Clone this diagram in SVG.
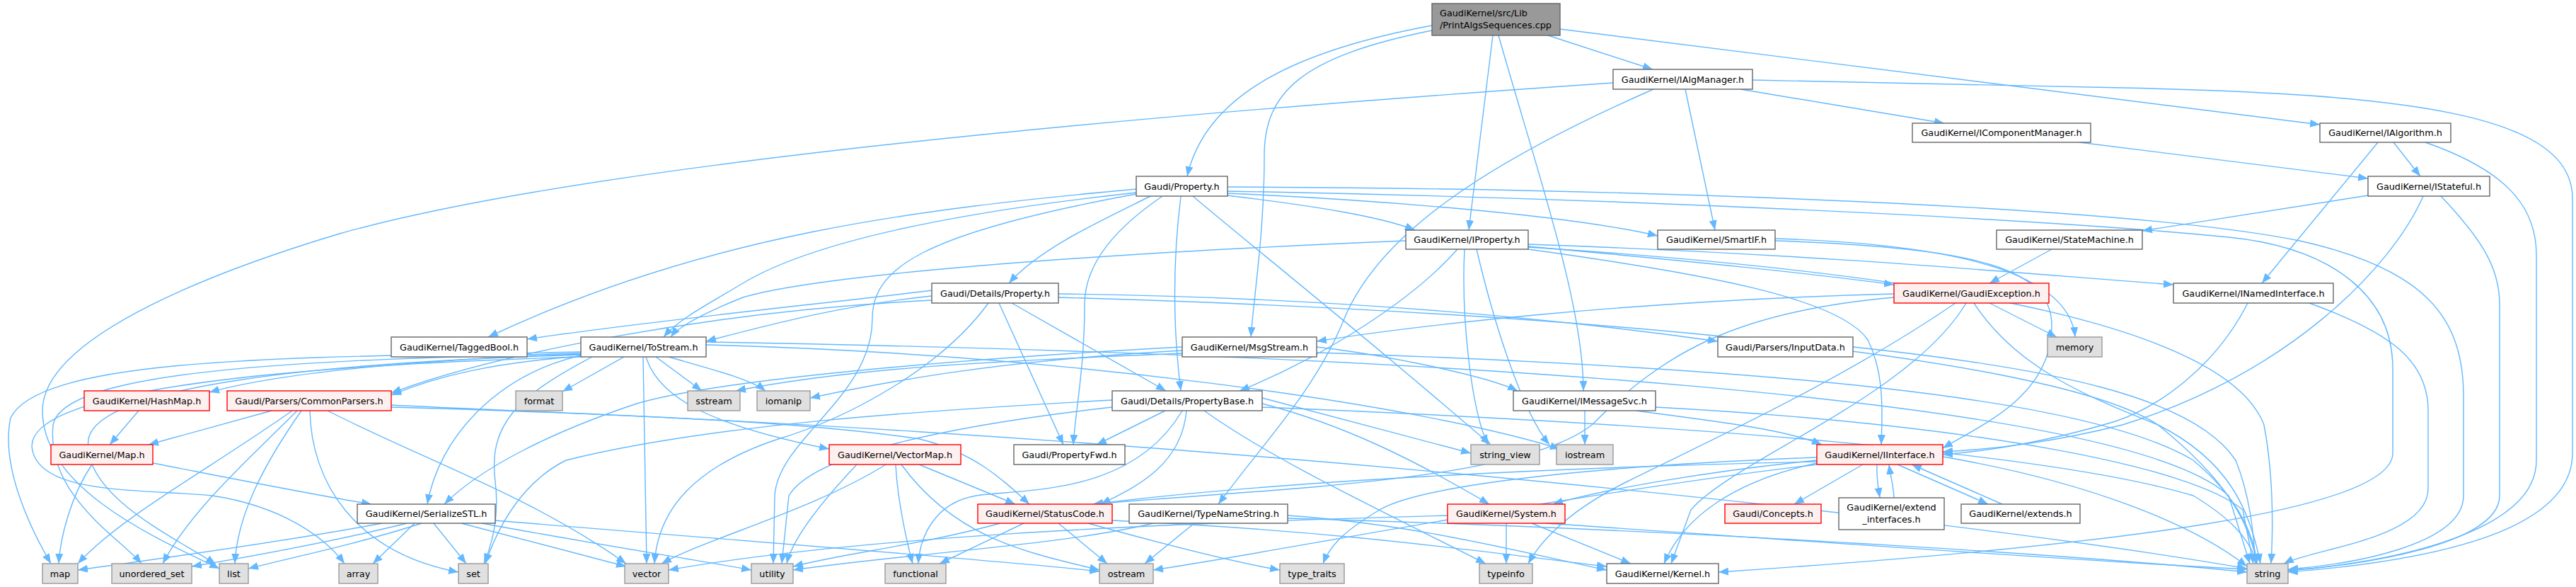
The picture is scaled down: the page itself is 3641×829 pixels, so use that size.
<svg xmlns="http://www.w3.org/2000/svg" width="3641" height="829" viewBox="0 0 3641 829">
<style>
.e path{fill:none;stroke:#63b8ff;stroke-width:1.4;marker-end:url(#a)}
rect{stroke-width:1.4}
.w rect{fill:#ffffff;stroke:#666666}
.r rect{fill:#fff0f0;stroke:#ff0000}
.s rect{fill:#e0e0e0;stroke:#999999}
.o rect{fill:#999999;stroke:#666666}
text{font-family:"DejaVu Sans",sans-serif;font-size:12.8px;fill:#000000;text-anchor:middle}
</style>
<defs>
<marker id="a" markerWidth="15" markerHeight="12" refX="14" refY="6" orient="auto" markerUnits="userSpaceOnUse"><path d="M0,0.5 L14,6 L0,11.5 z" fill="#63b8ff"/></marker>
</defs>
<rect width="3641" height="829" fill="#ffffff"/>
<g class="e" id="edges">
<path d="M2024,36 C1840,70 1705,130 1678,249"/>
<path d="M2188,50 L2336,98"/>
<path d="M2205,41 L3279,176"/>
<path d="M2110,50 L2076,325"/>
<path d="M2118,50 C2175,250 2238,430 2238,552"/>
<path d="M2024,43 C1840,80 1787,130 1787,220 C1787,330 1772,420 1768,476"/>
<path d="M2460,126 L2748,174"/>
<path d="M2382,126 L2424,325"/>
<path d="M2337,126 C2100,230 1950,330 1900,450 C1860,550 1790,620 1722,712"/>
<path d="M2280,117 C1500,170 800,240 480,330 C330,375 60,470 60,580 C60,690 220,760 310,803"/>
<path d="M2477,113 L3000,124 C3400,133 3636,160 3636,280 L3636,640 C3636,760 3400,795 3234,808"/>
<path d="M2939,201 L3347,252"/>
<path d="M3361,201 L3197,400"/>
<path d="M3383,201 L3421,249"/>
<path d="M3428,201 C3540,240 3585,290 3585,360 L3585,650 C3585,760 3350,797 3234,806"/>
<path d="M3347,276 L3028,326"/>
<path d="M3425,277 C3380,380 3230,530 3000,600 C2900,625 2820,634 2746,638"/>
<path d="M3450,277 C3510,340 3533,380 3533,430 L3533,700 C3533,770 3330,800 3234,805"/>
<path d="M2900,352 L2812,400"/>
<path d="M3177,428 C3130,520 3050,575 2990,595 C2900,622 2820,636 2746,642"/>
<path d="M3264,428 C3380,470 3432,510 3432,580 L3432,690 C3432,760 3270,775 3228,796"/>
<path d="M1626,277 C1560,310 1470,350 1426,400"/>
<path d="M1669,277 C1660,350 1655,440 1669,552"/>
<path d="M1643,277 C1580,320 1533,370 1533,430 C1533,520 1520,580 1517,628"/>
<path d="M1735,276 C1850,290 1950,305 2000,325"/>
<path d="M1735,270 C2300,280 2900,310 3150,335 C3300,350 3382,420 3382,520 L3382,640 C3382,720 3000,770 2429,808"/>
<path d="M1735,273 C1900,280 2200,300 2343,333"/>
<path d="M1606,267 C1300,295 1000,330 690,476"/>
<path d="M1606,272 C1350,300 1150,340 1050,400 C1000,430 960,450 938,476"/>
<path d="M1735,264 C2300,266 3000,290 3250,340 C3430,380 3482,450 3482,560 L3482,700 C3482,770 3320,798 3234,804"/>
<path d="M1686,277 C1760,340 1900,450 2107,628"/>
<path d="M1606,274 C1300,330 1233,380 1233,450 C1233,560 1100,620 1095,700 L1093,796"/>
<path d="M1430,428 L1648,552"/>
<path d="M1412,428 L1503,628"/>
<path d="M1317,410 C1200,425 900,455 745,479"/>
<path d="M1317,418 C1200,430 1100,455 998,482"/>
<path d="M1317,424 C1000,440 700,500 553,555"/>
<path d="M1496,415 C1900,420 2200,450 2428,482"/>
<path d="M1496,420 C2200,440 2900,500 3050,600 C3150,680 3180,740 3190,796"/>
<path d="M1397,428 C1330,520 1200,590 1100,620 C980,660 930,720 925,796"/>
<path d="M1647,580 L1550,628"/>
<path d="M1671,580 C1600,700 1450,690 1380,700 C1320,710 1300,760 1298,796"/>
<path d="M1677,580 C1670,660 1600,690 1556,712"/>
<path d="M1702,580 C1800,650 1950,720 2100,796"/>
<path d="M1784,570 C1900,600 2000,650 2105,712"/>
<path d="M1784,562 L2079,640"/>
<path d="M1572,565 C1300,580 1000,600 800,650 C740,680 705,740 686,796"/>
<path d="M1784,575 C2400,600 2900,640 3100,700 C3150,730 3180,760 3190,796"/>
<path d="M1572,575 C1350,600 1150,640 1115,700 L1105,796"/>
<path d="M2060,352 C2000,420 1880,500 1752,552"/>
<path d="M2070,352 C2065,450 2080,580 2103,628"/>
<path d="M2087,352 C2110,450 2150,580 2190,628"/>
<path d="M1987,340 C1500,360 1150,390 1050,420 C1000,440 960,460 948,476"/>
<path d="M2160,345 C2600,360 2900,390 3072,402"/>
<path d="M2160,348 C2400,370 2550,385 2677,402"/>
<path d="M2160,352 C2400,385 2600,420 2640,480 C2665,530 2660,590 2659,628"/>
<path d="M2160,349 C2800,390 3150,470 3200,600 C3215,680 3212,760 3210,796"/>
<path d="M2509,340 C2800,350 2900,380 2900,460 C2900,560 2800,600 2746,633"/>
<path d="M2509,337 C2780,345 2925,390 2933,476"/>
<path d="M2812,428 L2907,476"/>
<path d="M2677,415 C2300,425 2000,460 1861,482"/>
<path d="M2764,428 C2600,540 2400,630 2300,680 C2220,720 2180,760 2160,796"/>
<path d="M2779,428 C2700,560 2450,650 2390,720 L2362,796"/>
<path d="M2790,428 C2850,520 2950,560 3050,600 C3150,650 3180,720 3195,796"/>
<path d="M2677,420 C2450,440 2350,500 2250,600 C2150,680 1800,690 1545,712"/>
<path d="M2240,580 L2240,628"/>
<path d="M2313,580 C2420,595 2520,605 2575,628"/>
<path d="M2340,575 C2800,600 3100,660 3170,720 L3185,796"/>
<path d="M1861,490 C1950,500 2100,530 2145,552"/>
<path d="M1671,490 C1300,510 1000,540 900,570 C780,610 680,660 628,712"/>
<path d="M1671,495 C1400,510 1250,540 1145,562"/>
<path d="M1671,499 C1400,510 1200,520 1040,552"/>
<path d="M1861,498 C2500,520 2950,560 3100,650 C3160,700 3185,750 3190,796"/>
<path d="M2619,490 C2900,520 3100,560 3160,650 C3180,700 3185,750 3188,796"/>
<path d="M1688,739 L1618,796"/>
<path d="M1630,739 C1500,770 1300,780 1121,805"/>
<path d="M1820,728 C2000,740 2150,780 2271,805"/>
<path d="M1820,732 C2300,745 2900,780 3176,808"/>
<path d="M2129,739 L2129,796"/>
<path d="M2165,739 L2305,796"/>
<path d="M2185,739 C2500,760 2900,790 3176,804"/>
<path d="M2046,728 C1600,740 1200,760 945,805"/>
<path d="M1447,739 L1328,796"/>
<path d="M1496,739 L1565,796"/>
<path d="M1414,739 C1300,770 1200,780 1121,800"/>
<path d="M1538,739 C1650,770 1750,795 1809,805"/>
<path d="M1572,735 C1900,750 2100,780 2271,800"/>
<path d="M1299,656 L1435,712"/>
<path d="M1266,656 C1268,700 1280,760 1290,796"/>
<path d="M1274,656 C1350,760 1450,780 1554,805"/>
<path d="M1252,656 C1150,720 1000,760 935,796"/>
<path d="M1211,656 C1160,710 1120,760 1112,796"/>
<path d="M384,580 L210,628"/>
<path d="M413,580 C300,660 170,730 110,796"/>
<path d="M420,580 C350,650 270,720 230,796"/>
<path d="M426,580 C370,660 335,730 332,796"/>
<path d="M438,580 C440,680 500,780 648,808"/>
<path d="M463,580 C600,650 750,700 885,796"/>
<path d="M553,572 C800,585 1100,590 1300,620 C1380,640 1420,680 1455,712"/>
<path d="M553,575 C1500,600 2700,720 3176,803"/>
<path d="M196,580 L155,628"/>
<path d="M130,656 C100,700 85,760 83,796"/>
<path d="M216,654 C350,680 450,700 525,712"/>
<path d="M540,739 C400,765 220,790 110,805"/>
<path d="M575,739 C450,770 330,790 271,800"/>
<path d="M596,739 C500,770 400,790 351,803"/>
<path d="M586,739 L527,796"/>
<path d="M613,739 L659,796"/>
<path d="M652,739 L885,800"/>
<path d="M681,739 C850,770 980,790 1062,805"/>
<path d="M700,735 C1000,760 1400,790 1554,807"/>
<path d="M882,504 L795,553"/>
<path d="M927,504 L992,552"/>
<path d="M945,504 C1000,520 1060,535 1082,552"/>
<path d="M909,504 L914,796"/>
<path d="M837,504 C730,560 690,600 700,680 C706,730 695,770 684,796"/>
<path d="M821,502 C700,530 620,620 604,712"/>
<path d="M913,504 C930,560 1000,600 1172,634"/>
<path d="M821,500 C600,508 400,525 296,554"/>
<path d="M821,503 C700,512 620,530 553,558"/>
<path d="M821,497 C450,505 60,500 15,590 C0,660 45,750 72,796"/>
<path d="M821,499 C450,508 90,520 75,600 C65,700 170,760 200,796"/>
<path d="M821,501 C450,512 140,545 125,620 C115,700 250,760 305,797"/>
<path d="M821,504 C450,515 45,545 45,630 C50,700 200,690 300,700 C400,715 460,760 487,796"/>
<path d="M998,487 C1500,500 2000,570 2205,634"/>
<path d="M998,483 C2000,500 3000,560 3150,700 L3180,796"/>
<path d="M2633,656 L2536,712"/>
<path d="M2653,656 C2652,675 2655,690 2657,703"/>
<path d="M2682,656 L2810,712"/>
<path d="M2568,650 C2420,665 2270,690 2195,712"/>
<path d="M2568,652 C2200,660 1800,680 1545,712"/>
<path d="M2568,654 C2450,680 2380,730 2352,796"/>
<path d="M2568,646 C2200,660 2000,690 1950,720 C1900,750 1880,770 1870,796"/>
<path d="M2568,656 C2200,700 1800,780 1630,805"/>
<path d="M2746,645 C2950,680 3100,740 3176,800"/>
<path d="M2677,703 C2677,690 2672,672 2670,656"/>
<path d="M2830,712 L2702,656"/>
</g>
<g id="n-root" class="o"><rect x="2024" y="5" width="181" height="45"/><text x="2035" y="23" style="text-anchor:start">GaudiKernel/src/Lib</text><text x="2035" y="40" style="text-anchor:start">/PrintAlgsSequences.cpp</text></g>
<g id="n-IAlgManager" class="w"><rect x="2280" y="98" width="197" height="28"/><text x="2378.5" y="116.6">GaudiKernel/IAlgManager.h</text></g>
<g id="n-IComponentManager" class="w"><rect x="2703" y="174" width="252" height="27"/><text x="2829" y="192">GaudiKernel/IComponentManager.h</text></g>
<g id="n-IAlgorithm" class="w"><rect x="3279" y="174" width="185" height="27"/><text x="3371.5" y="192">GaudiKernel/IAlgorithm.h</text></g>
<g id="n-IStateful" class="w"><rect x="3347" y="249" width="172" height="28"/><text x="3433" y="267.6">GaudiKernel/IStateful.h</text></g>
<g id="n-StateMachine" class="w"><rect x="2822" y="325" width="206" height="27"/><text x="2925" y="343">GaudiKernel/StateMachine.h</text></g>
<g id="n-INamedInterface" class="w"><rect x="3072" y="400" width="226" height="28"/><text x="3185" y="418.6">GaudiKernel/INamedInterface.h</text></g>
<g id="n-Property" class="w"><rect x="1606" y="249" width="129" height="28"/><text x="1670.5" y="267.6">Gaudi/Property.h</text></g>
<g id="n-IProperty" class="w"><rect x="1987" y="325" width="173" height="27"/><text x="2073.5" y="343">GaudiKernel/IProperty.h</text></g>
<g id="n-SmartIF" class="w"><rect x="2343" y="325" width="166" height="27"/><text x="2426" y="343">GaudiKernel/SmartIF.h</text></g>
<g id="n-DetailsProperty" class="w"><rect x="1317" y="400" width="179" height="28"/><text x="1406.5" y="418.6">Gaudi/Details/Property.h</text></g>
<g id="n-MsgStream" class="w"><rect x="1671" y="476" width="190" height="28"/><text x="1766" y="494.6">GaudiKernel/MsgStream.h</text></g>
<g id="n-TaggedBool" class="w"><rect x="553" y="476" width="192" height="28"/><text x="649" y="494.6">GaudiKernel/TaggedBool.h</text></g>
<g id="n-ToStream" class="w"><rect x="821" y="476" width="177" height="28"/><text x="909.5" y="494.6">GaudiKernel/ToStream.h</text></g>
<g id="n-GaudiException" class="r"><rect x="2677" y="400" width="219" height="28"/><text x="2786.5" y="418.6">GaudiKernel/GaudiException.h</text></g>
<g id="n-InputData" class="w"><rect x="2428" y="476" width="191" height="28"/><text x="2523.5" y="494.6">Gaudi/Parsers/InputData.h</text></g>
<g id="n-memory" class="s"><rect x="2894" y="476" width="77" height="28"/><text x="2932.5" y="494.6">memory</text></g>
<g id="n-HashMap" class="r"><rect x="119" y="552" width="177" height="28"/><text x="207.5" y="570.6">GaudiKernel/HashMap.h</text></g>
<g id="n-CommonParsers" class="r"><rect x="321" y="552" width="232" height="28"/><text x="437" y="570.6">Gaudi/Parsers/CommonParsers.h</text></g>
<g id="n-format" class="s"><rect x="729" y="552" width="66" height="28"/><text x="762" y="570.6">format</text></g>
<g id="n-sstream" class="s"><rect x="972" y="552" width="74" height="28"/><text x="1009" y="570.6">sstream</text></g>
<g id="n-iomanip" class="s"><rect x="1070" y="552" width="75" height="28"/><text x="1107.5" y="570.6">iomanip</text></g>
<g id="n-PropertyBase" class="w"><rect x="1572" y="552" width="212" height="28"/><text x="1678" y="570.6">Gaudi/Details/PropertyBase.h</text></g>
<g id="n-IMessageSvc" class="w"><rect x="2139" y="552" width="201" height="28"/><text x="2239.5" y="570.6">GaudiKernel/IMessageSvc.h</text></g>
<g id="n-Map" class="r"><rect x="72" y="628" width="144" height="28"/><text x="144" y="646.6">GaudiKernel/Map.h</text></g>
<g id="n-VectorMap" class="r"><rect x="1172" y="628" width="186" height="28"/><text x="1265" y="646.6">GaudiKernel/VectorMap.h</text></g>
<g id="n-PropertyFwd" class="w"><rect x="1433" y="628" width="157" height="28"/><text x="1511.5" y="646.6">Gaudi/PropertyFwd.h</text></g>
<g id="n-string_view" class="s"><rect x="2079" y="628" width="97" height="28"/><text x="2127.5" y="646.6">string_view</text></g>
<g id="n-iostream" class="s"><rect x="2200" y="628" width="80" height="28"/><text x="2240" y="646.6">iostream</text></g>
<g id="n-IInterface" class="r"><rect x="2568" y="628" width="178" height="28"/><text x="2657" y="646.6">GaudiKernel/IInterface.h</text></g>
<g id="n-SerializeSTL" class="w"><rect x="505" y="712" width="195" height="27"/><text x="602.5" y="730">GaudiKernel/SerializeSTL.h</text></g>
<g id="n-StatusCode" class="r"><rect x="1382" y="712" width="190" height="27"/><text x="1477" y="730">GaudiKernel/StatusCode.h</text></g>
<g id="n-TypeNameString" class="w"><rect x="1596" y="712" width="224" height="27"/><text x="1708" y="730">GaudiKernel/TypeNameString.h</text></g>
<g id="n-System" class="r"><rect x="2046" y="712" width="166" height="27"/><text x="2129" y="730">GaudiKernel/System.h</text></g>
<g id="n-Concepts" class="r"><rect x="2438" y="712" width="136" height="27"/><text x="2506" y="730">Gaudi/Concepts.h</text></g>
<g id="n-extend_interfaces" class="w"><rect x="2599" y="703" width="149" height="45"/><text x="2673.5" y="720.5">GaudiKernel/extend</text><text x="2673.5" y="737.5">_interfaces.h</text></g>
<g id="n-extends" class="w"><rect x="2772" y="712" width="168" height="27"/><text x="2856" y="730">GaudiKernel/extends.h</text></g>
<g id="n-map" class="s"><rect x="60" y="796" width="50" height="28"/><text x="85" y="814.6">map</text></g>
<g id="n-unordered_set" class="s"><rect x="158" y="796" width="113" height="28"/><text x="214.5" y="814.6">unordered_set</text></g>
<g id="n-list" class="s"><rect x="310" y="796" width="41" height="28"/><text x="330.5" y="814.6">list</text></g>
<g id="n-array" class="s"><rect x="479" y="796" width="55" height="28"/><text x="506.5" y="814.6">array</text></g>
<g id="n-set" class="s"><rect x="648" y="796" width="42" height="28"/><text x="669" y="814.6">set</text></g>
<g id="n-vector" class="s"><rect x="883" y="796" width="62" height="28"/><text x="914" y="814.6">vector</text></g>
<g id="n-utility" class="s"><rect x="1062" y="796" width="59" height="28"/><text x="1091.5" y="814.6">utility</text></g>
<g id="n-functional" class="s"><rect x="1251" y="796" width="86" height="28"/><text x="1294" y="814.6">functional</text></g>
<g id="n-ostream" class="s"><rect x="1554" y="796" width="76" height="28"/><text x="1592" y="814.6">ostream</text></g>
<g id="n-type_traits" class="s"><rect x="1809" y="796" width="91" height="28"/><text x="1854.5" y="814.6">type_traits</text></g>
<g id="n-typeinfo" class="s"><rect x="2091" y="796" width="75" height="28"/><text x="2128.5" y="814.6">typeinfo</text></g>
<g id="n-Kernel" class="w"><rect x="2271" y="796" width="158" height="28"/><text x="2350" y="814.6">GaudiKernel/Kernel.h</text></g>
<g id="n-string" class="s"><rect x="3176" y="796" width="58" height="28"/><text x="3205" y="814.6">string</text></g>
</svg>
